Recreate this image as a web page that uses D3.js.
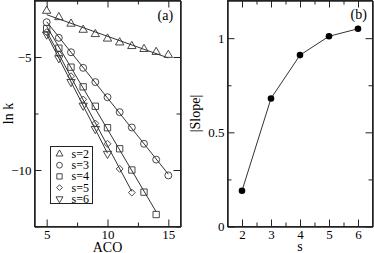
<!DOCTYPE html>
<html>
<head>
<meta charset="utf-8">
<script src="https://cdn.jsdelivr.net/npm/d3@7"></script>
<style>
  body { margin: 0; background: #fff; }
  svg, svg text { font-family: "Liberation Serif", "Times New Roman", "DejaVu Serif", Times, serif; }
  .axis path { stroke: #222; }
  .axis line { stroke: #222; }
</style>
</head>
<body>
<svg id="chart" width="374" height="253"></svg>
<script>
// panel (a): ln k vs ACO for each s
const seriesNames = ['s=2', 's=3', 's=4', 's=5', 's=6'];
const aco = [5, 6, 7, 8, 9, 10, 11, 12, 13, 14, 15];
const lnKs2 = [-2.96, -3.24, -3.53, -3.80, -3.99, -4.19, -4.36, -4.52, -4.65, -4.78, -4.91];
const lnKs3 = [-3.46, -4.15, -4.79, -5.48, -6.11, -6.78, -7.44, -8.12, -8.84, -9.54, -10.24];
const lnKs4 = [-3.75, -4.61, -5.45, -6.32, -7.18, -8.13, -9.06, -10.0, -10.98, -11.97];
const lnKs5 = [-3.90, -4.88, -5.85, -6.88, -7.94, -8.84, -9.95, -11.0];
const lnKs6 = [-4.0, -5.05, -6.1, -7.15, -8.18, -9.28];
const acoTicks = [5, 10, 15];
const lnKTicks = [-10, -5];

// panel (b): |slope| vs s
const sValues = [2, 3, 4, 5, 6];
const slopeAbs = [0.19, 0.68, 0.91, 1.01, 1.05];
const sTicks = [2, 3, 4, 5, 6];
const slopeTicks = [0, 0.5, 1];

const svg = d3.select('#chart');

const symDiamond = d3.symbolDiamond2 || d3.symbolDiamond;
const markers = [
  {type: d3.symbolTriangle, size: 30, rot: 0},
  {type: d3.symbolCircle, size: 38, rot: 0},
  {type: d3.symbolSquare, size: 40, rot: 0},
  {type: symDiamond, size: 30, rot: 0},
  {type: d3.symbolTriangle, size: 30, rot: 180}
];

const fmt = d3.format('');

function frameAxes(g, x, y, xMajor, xMinor, yMajor, yMinor) {
  const w = x.range()[1], h = y.range()[0];
  const mk = (axis, tf) => g.append('g').attr('class', 'axis').attr('transform', tf).call(axis)
    .attr('font-family', null).attr('font-size', 13)
    .call(a => a.selectAll('text').attr('fill', '#000'));
  mk(d3.axisBottom(x).tickValues(xMajor).tickSizeInner(-7).tickSizeOuter(0).tickPadding(3).tickFormat(fmt), `translate(0,${h})`);
  mk(d3.axisBottom(x).tickValues(xMinor).tickSizeInner(-4).tickSizeOuter(0).tickFormat(''), `translate(0,${h})`);
  mk(d3.axisTop(x).tickValues(xMajor).tickSizeInner(-7).tickSizeOuter(0).tickFormat(''), 'translate(0,0)');
  mk(d3.axisTop(x).tickValues(xMinor).tickSizeInner(-4).tickSizeOuter(0).tickFormat(''), 'translate(0,0)');
  mk(d3.axisLeft(y).tickValues(yMajor).tickSizeInner(-7).tickSizeOuter(0).tickPadding(3).tickFormat(fmt), 'translate(0,0)');
  mk(d3.axisLeft(y).tickValues(yMinor).tickSizeInner(-4).tickSizeOuter(0).tickFormat(''), 'translate(0,0)');
  mk(d3.axisRight(y).tickValues(yMajor).tickSizeInner(-7).tickSizeOuter(0).tickFormat(''), `translate(${w},0)`);
  mk(d3.axisRight(y).tickValues(yMinor).tickSizeInner(-4).tickSizeOuter(0).tickFormat(''), `translate(${w},0)`);
  g.append('rect').attr('width', w).attr('height', h)
    .attr('fill', 'none').attr('stroke', '#222').attr('stroke-width', 1);
}

// ---------- panel (a)
const wA = 146, hA = 226;
const gA = svg.append('g').attr('transform', 'translate(34.5,0.5)');
const xA = d3.scaleLinear().domain([4, 16]).range([0, wA]);
const yA = d3.scaleLinear().domain([-12.5, -2.5]).range([hA, 0]);

frameAxes(gA, xA, yA, acoTicks, [7.5, 12.5], lnKTicks, [-12.5, -7.5]);

const allSeries = [lnKs2, lnKs3, lnKs4, lnKs5, lnKs6].map((vals, i) =>
  vals.map((v, j) => ({x: aco[j], y: v, i})));

const line = d3.line().x(d => xA(d[0])).y(d => yA(d[1]));

allSeries.forEach((pts, i) => {
  // least squares fit line
  const mx = d3.mean(pts, d => d.x), my = d3.mean(pts, d => d.y);
  const slope = d3.sum(pts, d => (d.x - mx) * (d.y - my)) / d3.sum(pts, d => (d.x - mx) ** 2);
  const x0 = d3.min(pts, d => d.x), x1 = d3.max(pts, d => d.x);
  gA.append('path')
    .attr('d', line([[x0, my + slope * (x0 - mx)], [x1, my + slope * (x1 - mx)]]))
    .attr('fill', 'none').attr('stroke', '#333').attr('stroke-width', 1);

  const m = markers[i];
  gA.selectAll('.pt' + i).data(pts).enter().append('path')
    .attr('class', 'pt' + i)
    .attr('d', d3.symbol().type(m.type).size(m.size))
    .attr('transform', d => `translate(${xA(d.x)},${yA(d.y)}) rotate(${m.rot})`)
    .attr('fill', 'none').attr('stroke', '#333').attr('stroke-width', 0.9);
});

// legend
const leg = gA.append('g').attr('transform', 'translate(16,146)');
leg.append('rect').attr('width', 42).attr('height', 57)
  .attr('fill', '#fff').attr('stroke', '#222').attr('stroke-width', 1);
seriesNames.forEach((name, i) => {
  const m = markers[i];
  const cy = 7.5 + i * 11.2;
  leg.append('path')
    .attr('d', d3.symbol().type(m.type).size(m.size * 0.7))
    .attr('transform', `translate(9,${cy}) rotate(${m.rot})`)
    .attr('fill', 'none').attr('stroke', '#333').attr('stroke-width', 0.9);
  leg.append('text').attr('x', 21).attr('y', cy + 4)
    .attr('font-size', 12).text(name);
});

gA.append('text').attr('x', wA - 23).attr('y', 19).attr('font-size', 14).text('(a)');
gA.append('text').attr('x', wA / 2).attr('y', 251).attr('text-anchor', 'middle')
  .attr('font-size', 14).text('ACO');
gA.append('text').attr('transform', `translate(-22,${hA / 2}) rotate(-90)`)
  .attr('text-anchor', 'middle').attr('font-size', 14).text('ln k');

// ---------- panel (b)
const wB = 145, hB = 226;
const gB = svg.append('g').attr('transform', 'translate(227.5,0.5)');
const xB = d3.scaleLinear().domain([1.5, 6.5]).range([0, wB]);
const yB = d3.scaleLinear().domain([0, 1.2]).range([hB, 0]);

frameAxes(gB, xB, yB, sTicks, [2.5, 3.5, 4.5, 5.5], slopeTicks, [0.25, 0.75]);

const slopePts = sValues.map((s, i) => [s, slopeAbs[i]]);
gB.append('path')
  .attr('d', d3.line().x(d => xB(d[0])).y(d => yB(d[1]))(slopePts))
  .attr('fill', 'none').attr('stroke', '#333').attr('stroke-width', 1);
gB.selectAll('.dot').data(slopePts).enter().append('circle')
  .attr('class', 'dot')
  .attr('cx', d => xB(d[0])).attr('cy', d => yB(d[1])).attr('r', 3.3)
  .attr('fill', '#000');

gB.append('text').attr('x', wB - 22).attr('y', 18).attr('font-size', 14).text('(b)');
gB.append('text').attr('x', wB / 2).attr('y', 250).attr('text-anchor', 'middle')
  .attr('font-size', 14).text('s');
gB.append('text').attr('transform', `translate(-28,${hB / 2}) rotate(-90)`)
  .attr('text-anchor', 'middle').attr('font-size', 14).text('|Slope|');
</script>
</body>
</html>
